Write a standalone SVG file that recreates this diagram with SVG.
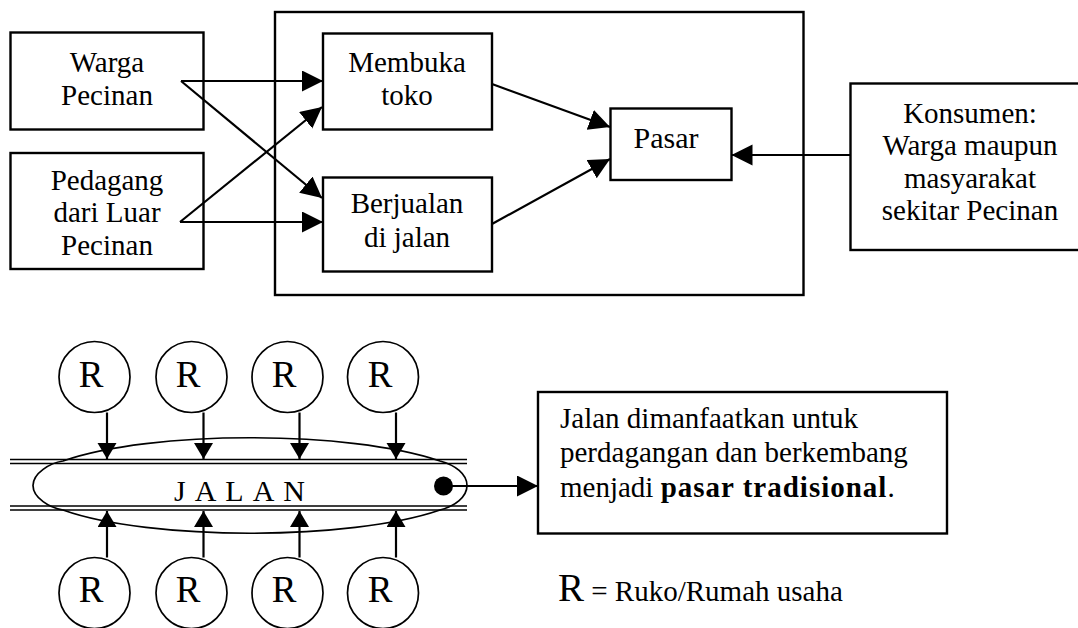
<svg xmlns="http://www.w3.org/2000/svg" width="1078" height="628" viewBox="0 0 1078 628">
<style>
.box{fill:none;stroke:#000;stroke-width:2.4}
.ln{fill:none;stroke:#000;stroke-width:2.2}
.thin{fill:none;stroke:#000;stroke-width:1.7}
.t{font-family:"Liberation Serif","Times New Roman",serif;font-size:29px;fill:#000;text-anchor:middle}
.tl{font-family:"Liberation Serif","Times New Roman",serif;font-size:29px;fill:#000}
.r{font-family:"Liberation Serif","Times New Roman",serif;font-size:37px;fill:#000;text-anchor:middle}
</style>
<defs>
<marker id="ah" markerUnits="userSpaceOnUse" markerWidth="22" markerHeight="22" refX="21" refY="10.5" orient="auto">
<path d="M0,0 L21,10.5 L0,21 Z" fill="#000"/>
</marker>
<marker id="as" markerUnits="userSpaceOnUse" markerWidth="18" markerHeight="20" refX="16" refY="9.5" orient="auto">
<path d="M0,0 L16,9.5 L0,19 Z" fill="#000"/>
</marker>
</defs>

<g id="area">
<rect class="box" x="275" y="12" width="528.5" height="283"/>
</g>

<g id="warga">
<rect class="box" x="10.5" y="32.5" width="193" height="97"/>
<text class="t" x="107" y="72">Warga</text>
<text class="t" x="107" y="105">Pecinan</text>
</g>

<g id="pedagang">
<rect class="box" x="10.5" y="153" width="193" height="116"/>
<text class="t" x="107" y="190">Pedagang</text>
<text class="t" x="107" y="222">dari Luar</text>
<text class="t" x="107" y="255">Pecinan</text>
</g>

<g id="membuka">
<rect class="box" x="323" y="33.5" width="169" height="96"/>
<text class="t" x="407" y="72">Membuka</text>
<text class="t" x="407" y="105">toko</text>
</g>

<g id="berjualan">
<rect class="box" x="323" y="177.5" width="169" height="94"/>
<text class="t" x="407" y="213">Berjualan</text>
<text class="t" x="407" y="247">di jalan</text>
</g>

<g id="pasar">
<rect class="box" x="610.5" y="108.5" width="121" height="71.5"/>
<text class="t" x="666" y="148" style="font-size:30px">Pasar</text>
</g>

<g id="konsumen">
<rect class="box" x="850.5" y="83.5" width="240" height="166.5"/>
<text class="t" x="970" y="123">Konsumen:</text>
<text class="t" x="970" y="155">Warga maupun</text>
<text class="t" x="970" y="188">masyarakat</text>
<text class="t" x="970" y="220">sekitar Pecinan</text>
</g>

<g id="jalan">
<path class="thin" d="M10,459.5 H467 M10,463.5 H467 M10,506 H467 M10,510 H467"/>
<path class="thin" d="M33,485.5 C33,473 50,463 63,461 C150,430 350,430 440,461 C455,465 467,474 467,485.5 C467,497 455,506 440,510 C350,541 150,541 63,510 C50,508 33,498 33,485.5 Z"/>
<text class="tl" x="174" y="501" style="font-size:30px;letter-spacing:9px">JALAN</text>
<circle cx="443.5" cy="486" r="9.5" fill="#000"/>
</g>

<g id="r-top">
<circle class="thin" cx="94.5" cy="377" r="35.5"/>
<circle class="thin" cx="191.5" cy="377" r="35.5"/>
<circle class="thin" cx="287.5" cy="377" r="35.5"/>
<circle class="thin" cx="383" cy="377" r="35.5"/>
<text class="r" x="91" y="387">R</text>
<text class="r" x="188" y="387">R</text>
<text class="r" x="284" y="387">R</text>
<text class="r" x="380" y="387">R</text>
</g>

<g id="r-bottom">
<circle class="thin" cx="94.5" cy="593" r="35.5"/>
<circle class="thin" cx="191.5" cy="593" r="35.5"/>
<circle class="thin" cx="287.5" cy="593" r="35.5"/>
<circle class="thin" cx="383" cy="593" r="35.5"/>
<text class="r" x="91" y="602">R</text>
<text class="r" x="188" y="602">R</text>
<text class="r" x="284" y="602">R</text>
<text class="r" x="380" y="602">R</text>
</g>

<g id="keterangan">
<rect class="box" x="538" y="392" width="409" height="141.5"/>
<text class="tl" x="560" y="428">Jalan dimanfaatkan untuk</text>
<text class="tl" x="560" y="462">perdagangan dan berkembang</text>
<text class="tl" x="560" y="497">menjadi <tspan font-weight="bold" letter-spacing="1">pasar tradisional</tspan>.</text>
</g>

<g id="legend">
<text class="tl" x="558" y="601" style="font-size:39px">R<tspan style="font-size:29px"> = Ruko/Rumah usaha</tspan></text>
</g>

<g id="connectors">
<path class="ln" marker-end="url(#ah)" d="M181,81 H323"/>
<path class="ln" marker-end="url(#ah)" d="M181,81 L322,198"/>
<path class="ln" marker-end="url(#ah)" d="M180,222 L322,107"/>
<path class="ln" marker-end="url(#ah)" d="M180,222 H323"/>
<path class="ln" marker-end="url(#ah)" d="M492,84 L610,127"/>
<path class="ln" marker-end="url(#ah)" d="M492,224 L610,159"/>
<path class="ln" marker-end="url(#ah)" d="M850,155 H731.5"/>
<path class="ln" marker-end="url(#as)" d="M107,412.5 V459"/>
<path class="ln" marker-end="url(#as)" d="M203.5,412.5 V459"/>
<path class="ln" marker-end="url(#as)" d="M299.5,412.5 V459"/>
<path class="ln" marker-end="url(#as)" d="M396,412.5 V459"/>
<path class="ln" marker-end="url(#as)" d="M107,557.5 V511"/>
<path class="ln" marker-end="url(#as)" d="M203.5,557.5 V511"/>
<path class="ln" marker-end="url(#as)" d="M299.5,557.5 V511"/>
<path class="ln" marker-end="url(#as)" d="M396,557.5 V511"/>
<path class="ln" marker-end="url(#ah)" d="M452,486 H538"/>
</g>
</svg>
